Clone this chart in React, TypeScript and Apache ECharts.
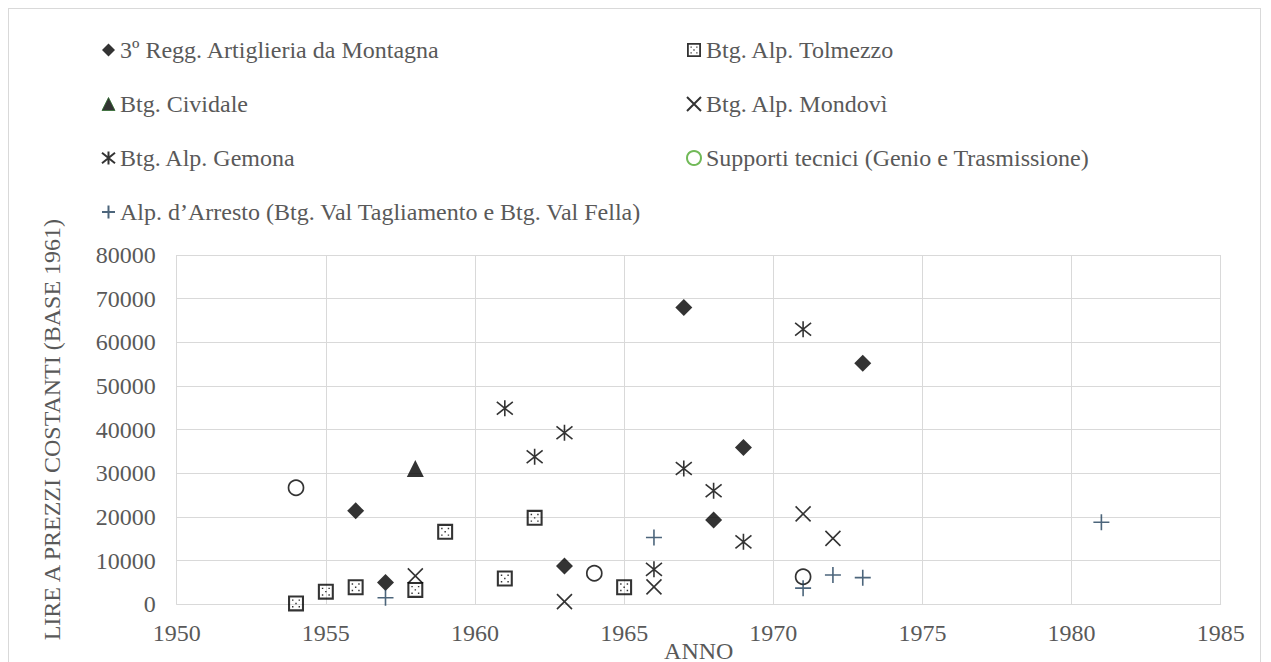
import React, { useEffect, useRef } from "react";
import * as echarts from "echarts";

const seriesNames = [
  "3º Regg. Artiglieria da Montagna",
  "Btg. Alp. Tolmezzo",
  "Btg. Cividale",
  "Btg. Alp. Mondovì",
  "Btg. Alp. Gemona",
  "Supporti tecnici (Genio e Trasmissione)",
  "Alp. d’Arresto (Btg. Val Tagliamento e Btg. Val Fella)",
];

const artYears = [1956, 1957, 1963, 1967, 1968, 1969, 1973];
const artValues = [21400, 5000, 8800, 68000, 19300, 35900, 55200];

const tolYears = [1954, 1955, 1956, 1958, 1959, 1961, 1962, 1965];
const tolValues = [200, 2900, 3900, 3300, 16600, 5900, 19800, 3900];

const civYears = [1958];
const civValues = [31100];

const monYears = [1958, 1963, 1966, 1971, 1972];
const monValues = [6500, 600, 4000, 20700, 15100];

const gemYears = [1961, 1962, 1963, 1966, 1967, 1968, 1969, 1971];
const gemValues = [44900, 33800, 39300, 8000, 31100, 26000, 14300, 63000];

const supYears = [1954, 1964, 1971];
const supValues = [26700, 7100, 6300];

const arrYears = [1957, 1966, 1971, 1972, 1973, 1981];
const arrValues = [1500, 15300, 3700, 6700, 6100, 18800];

const xTicks = [1950, 1955, 1960, 1965, 1970, 1975, 1980, 1985];
const yTicks = [0, 10000, 20000, 30000, 40000, 50000, 60000, 70000, 80000];

const FONT = "Liberation Serif";
const TEXT = "#595959";
const GRID = "#d9d9d9";
const PLUS_COLOR = "#1f3f5a";

const SQUARE_DOTS =
  "path://M0 0L20 0L20 20L0 20Z" +
  "M2.6 2.6L2.6 17.4L17.4 17.4L17.4 2.6Z" +
  "M5 5L6.8 5L6.8 6.8L5 6.8Z" +
  "M13.2 5L15 5L15 6.8L13.2 6.8Z" +
  "M9.1 9.1L10.9 9.1L10.9 10.9L9.1 10.9Z" +
  "M5 13.2L6.8 13.2L6.8 15L5 15Z" +
  "M13.2 13.2L15 13.2L15 15L13.2 15Z";
const X_PATH = "path://M0 0L10 10M10 0L0 10";
const STAR_PATH = "path://M0 1L10 9M10 1L0 9M5 0L5 10";
const PLUS_PATH = "path://M5 0L5 10M0 5L10 5";

function pairs(xs: number[], ys: number[]) {
  return xs.map((x, i) => [x, ys[i]]);
}

export default function App() {
  const ref = useRef<HTMLDivElement>(null);

  useEffect(() => {
    document.body.style.overflow = "hidden";
    if (!ref.current) return;
    const chart = echarts.init(ref.current, null, { renderer: "svg" });

    const legendText = { color: TEXT, fontSize: 24, fontFamily: FONT };

    chart.setOption({
      animation: false,
      backgroundColor: "#ffffff",
      textStyle: { fontFamily: FONT },
      legend: [
        {
          orient: "vertical",
          left: 90.5,
          top: 29,
          padding: 0,
          itemGap: 30,
          itemWidth: 13,
          itemHeight: 13,
          textStyle: legendText,
          data: [
            { name: seriesNames[0], itemStyle: { color: "#000" } },
            {
              name: seriesNames[2],
              itemStyle: { color: "#000", borderColor: "#2e6b2e", borderWidth: 1 },
            },
            {
              name: seriesNames[4],
              itemStyle: { color: "none", borderColor: "#000", borderWidth: 2 },
            },
            {
              name: seriesNames[6],
              itemStyle: { color: "none", borderColor: PLUS_COLOR, borderWidth: 2 },
            },
          ],
        },
        {
          orient: "vertical",
          left: 675.5,
          top: 29,
          padding: 0,
          itemGap: 30,
          itemWidth: 14,
          itemHeight: 14,
          textStyle: legendText,
          data: [
            { name: seriesNames[1], itemStyle: { color: "#000" } },
            {
              name: seriesNames[3],
              itemStyle: { color: "none", borderColor: "#000", borderWidth: 2 },
            },
            {
              name: seriesNames[5],
              itemStyle: { color: "#fff", borderColor: "#4ea72e", borderWidth: 2 },
            },
          ],
        },
      ],
      grid: { left: 167.7, top: 246, right: 39.3, bottom: 104.7 },
      xAxis: {
        type: "value",
        min: xTicks[0],
        max: xTicks[xTicks.length - 1],
        interval: 5,
        name: "ANNO",
        nameLocation: "middle",
        nameGap: 35,
        nameMoveOverlap: false,
        nameTextStyle: { color: TEXT, fontSize: 24, fontFamily: FONT },
        axisLine: { show: true, lineStyle: { color: GRID, width: 1 } },
        axisTick: { show: false },
        axisLabel: {
          color: TEXT,
          fontSize: 24,
          fontFamily: FONT,
          margin: 17,
          formatter: (v: number) => String(v),
        },
        splitLine: { show: true, lineStyle: { color: GRID, width: 1 } },
      },
      yAxis: {
        type: "value",
        min: yTicks[0],
        max: yTicks[yTicks.length - 1],
        interval: 10000,
        name: "LIRE A PREZZI COSTANTI (BASE 1961)",
        nameLocation: "middle",
        nameRotate: 90,
        nameGap: 113,
        nameTextStyle: { color: TEXT, fontSize: 24, fontFamily: FONT },
        axisLine: { show: false },
        axisTick: { show: false },
        axisLabel: {
          color: TEXT,
          fontSize: 24,
          fontFamily: FONT,
          margin: 21,
          formatter: (v: number) => String(v),
        },
        splitLine: { show: true, lineStyle: { color: GRID, width: 1 } },
      },
      series: [
        {
          name: seriesNames[0],
          type: "scatter",
          symbol: "diamond",
          symbolSize: 17,
          itemStyle: { color: "#000" },
          data: pairs(artYears, artValues),
        },
        {
          name: seriesNames[1],
          type: "scatter",
          symbol: SQUARE_DOTS,
          symbolSize: 16,
          itemStyle: { color: "#000" },
          data: pairs(tolYears, tolValues),
        },
        {
          name: seriesNames[2],
          type: "scatter",
          symbol: "triangle",
          symbolSize: 17,
          itemStyle: { color: "#000" },
          data: pairs(civYears, civValues),
        },
        {
          name: seriesNames[3],
          type: "scatter",
          symbol: X_PATH,
          symbolSize: 15,
          itemStyle: { color: "none", borderColor: "#000", borderWidth: 1.6 },
          data: pairs(monYears, monValues),
        },
        {
          name: seriesNames[4],
          type: "scatter",
          symbol: STAR_PATH,
          symbolSize: 16,
          itemStyle: { color: "none", borderColor: "#000", borderWidth: 1.6 },
          data: pairs(gemYears, gemValues),
        },
        {
          name: seriesNames[5],
          type: "scatter",
          symbol: "circle",
          symbolSize: 15,
          itemStyle: { color: "#fff", borderColor: "#000", borderWidth: 1.7 },
          data: pairs(supYears, supValues),
        },
        {
          name: seriesNames[6],
          type: "scatter",
          symbol: PLUS_PATH,
          symbolSize: 16,
          itemStyle: { color: "none", borderColor: PLUS_COLOR, borderWidth: 1.6 },
          data: pairs(arrYears, arrValues),
        },
      ],
    });

    return () => {
      chart.dispose();
    };
  }, []);

  return (
    <div
      ref={ref}
      style={{
        width: 1251,
        height: 700,
        borderTop: "1px solid #d9d9d9",
        borderLeft: "1px solid #d9d9d9",
        borderRight: "1px solid #d9d9d9",
      }}
    />
  );
}
